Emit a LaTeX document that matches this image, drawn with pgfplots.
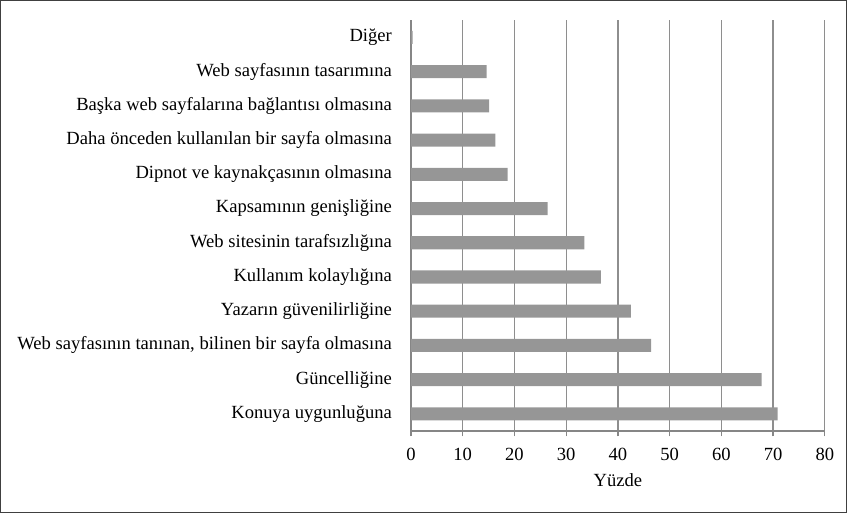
\documentclass[border=0pt]{standalone}
\usepackage{fontspec}
\setmainfont{Liberation Serif}
\usepackage{pgfplots}
\pgfplotsset{compat=1.18}
\definecolor{barc}{HTML}{969696}
\definecolor{gridc}{HTML}{8E8E8E}
\definecolor{axc}{HTML}{868686}
\begin{document}
\fontsize{13.9}{16}\selectfont
\begin{tikzpicture}
\draw[line width=1pt, black!75] (1.1pt,-1.1pt) rectangle (634.1pt,-384.4pt);
\begin{axis}[
  at={(308.25pt,-323.25pt)}, anchor=south west,
  scale only axis, width=309.75pt, height=307.5pt,
  xmin=0, xmax=80, ymin=-0.5, ymax=11.5,
  xtick={0,10,...,80},
  ytick={0,...,11},
  yticklabels={Konuya uygunluğuna, Güncelliğine, {Web sayfasının tanınan, bilinen bir sayfa olmasına}, Yazarın güvenilirliğine, Kullanım kolaylığına, Web sitesinin tarafsızlığına, Kapsamının genişliğine, Dipnot ve kaynakçasının olmasına, Daha önceden kullanılan bir sayfa olmasına, Başka web sayfalarına bağlantısı olmasına, Web sayfasının tasarımına, Diğer},
  axis x line*=bottom, axis y line*=left,
  axis line style={draw=axc, line width=1.4pt},
  every outer x axis line/.append style={-}, every outer y axis line/.append style={-},
  xmajorgrids, grid style={draw=gridc, line width=1pt},
  tick align=outside,
  x tick style={draw=axc, line width=1pt}, major tick length=4pt,
  y tick style={draw=none},
  yticklabel style={xshift=-5.5pt, font=\fontsize{13.9}{16}\selectfont},
  xticklabel style={yshift=-4pt, font=\fontsize{13.9}{16}\selectfont},
  /pgf/number format/assume math mode=true,
  xlabel={Yüzde}, xlabel style={font=\fontsize{13.9}{16}\selectfont, yshift=-0.5pt},
  xbar, bar width=9.75pt,
]
\addplot[fill=barc, draw=none] coordinates {
(70.9,0) (67.8,1) (46.4,2) (42.5,3) (36.7,4) (33.5,5) (26.4,6) (18.7,7) (16.3,8) (15.1,9) (14.6,10) (0.3,11)
};
\end{axis}
\end{tikzpicture}
\end{document}
